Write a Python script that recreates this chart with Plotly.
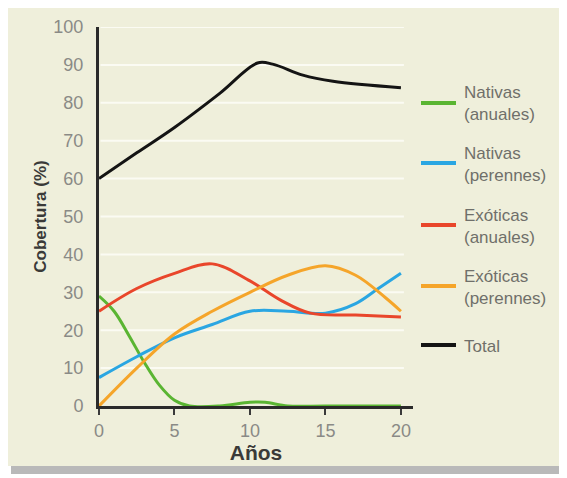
import plotly.graph_objects as go

# ---- data ----
years_total = [0, 2.5, 5, 8, 10.5, 11.5, 13.5, 15.5, 20]
total = [60, 66.8, 73.5, 82.5, 90.5, 90.2, 87.3, 85.7, 84]

years_na = [0, 1, 2, 3, 4, 5, 6, 8, 10, 11, 12.5, 15, 20]
nativas_anuales = [29, 25, 18.5, 11.5, 5.5, 1.5, 0, 0, 1, 1, 0, 0, 0]

years_np = [0, 2.5, 5, 7.5, 10, 12.5, 15, 17, 18.5, 20]
nativas_perennes = [7.5, 13, 18, 21.5, 25, 25, 24.5, 27, 31, 35]

years_ea = [0, 2.5, 5, 7.5, 10, 12, 14, 17, 20]
exoticas_anuales = [25, 31, 35, 37.5, 33, 28, 24.5, 24, 23.5]

years_ep = [0, 2.5, 5, 7.5, 10, 12.5, 15, 17, 19, 20]
exoticas_perennes = [0, 10, 19, 25, 30, 34.5, 37, 34.5, 28.5, 25]

series_names = ["Nativas<br>(anuales)", "Nativas<br>(perennes)", "Exóticas<br>(anuales)",
                "Exóticas<br>(perennes)", "Total"]
series_colors = ["#5ab532", "#2aa6e2", "#e9462b", "#f5a52a", "#141414"]
series_x = [years_na, years_np, years_ea, years_ep, years_total]
series_y = [nativas_anuales, nativas_perennes, exoticas_anuales, exoticas_perennes, total]

x_ticks = [0, 5, 10, 15, 20]
y_ticks = [0, 10, 20, 30, 40, 50, 60, 70, 80, 90, 100]

# ---- layout geometry (pixels) ----
W, H = 567, 478
OX, OY = 7, 8          # page offset of the figure on screen
L, T = 91, 19
PW, PH = 314, 379
R = W - L - PW
B = H - T - PH

FONT = "Liberation Sans, Arial, sans-serif"


def px(sx):
    return (sx - OX - L) / PW


def py(sy):
    return (T + PH - (sy - OY)) / PH


fig = go.Figure()

shapes = []
# scanned panel background + shadow
shapes.append(dict(type="rect", xref="paper", yref="paper", x0=px(10), x1=px(567), y0=py(474), y1=py(10),
                   fillcolor="#b9b9b9", line_width=0, layer="below"))
shapes.append(dict(type="rect", xref="paper", yref="paper", x0=px(7), x1=px(562), y0=py(466), y1=py(7),
                   fillcolor="#efefdb", line_width=0, layer="below"))
# white grid lines
for v in y_ticks[1:]:
    shapes.append(dict(type="line", xref="x", yref="y", x0=0.1, x1=20.2, y0=v, y1=v,
                       line=dict(color="#fbfbf3", width=2), layer="below"))

for name, xs, ys, c in zip(series_names, series_x, series_y, series_colors):
    fig.add_trace(go.Scatter(x=xs, y=ys, mode="lines", name=name.replace("<br>", " "),
                             line=dict(color=c, width=3, shape="spline", smoothing=1.0),
                             showlegend=False, cliponaxis=False))

# custom legend
legend_y = [103, 163, 225, 286, 345]
annotations = []
for name, c, ly in zip(series_names, series_colors, legend_y):
    shapes.append(dict(type="line", xref="paper", yref="paper", x0=px(420), x1=px(455),
                       y0=py(ly), y1=py(ly), line=dict(color=c, width=4)))
    annotations.append(dict(xref="paper", yref="paper", x=px(461), y=py(ly + 1), text=name,
                            showarrow=False, xanchor="left", yanchor="middle", align="left",
                            font=dict(family=FONT, size=17, color="#6f6f6a")))

fig.update_layout(
    width=W, height=H,
    margin=dict(l=L, r=R, t=T, b=B, pad=0, autoexpand=False),
    paper_bgcolor="white",
    plot_bgcolor="rgba(0,0,0,0)",
    shapes=shapes,
    annotations=annotations,
    font=dict(family=FONT),
    xaxis=dict(
        range=[0, 20.8], tickvals=x_ticks, ticktext=[str(v) for v in x_ticks],
        showgrid=False, zeroline=False, automargin=False,
        showline=True, linecolor="#2a2a2a", linewidth=3,
        ticks="outside", ticklen=6, tickwidth=2, tickcolor="#3a3a3a",
        tickfont=dict(size=18, color="#8a8a86"),
        title=dict(text="<b>Años</b>", font=dict(size=21, color="#3a3a38"), standoff=6),
    ),
    yaxis=dict(
        range=[0, 100], tickvals=y_ticks, ticktext=[str(v) for v in y_ticks],
        showgrid=False, zeroline=False, automargin=False,
        showline=True, linecolor="#2a2a2a", linewidth=3,
        ticks="", ticklabelstandoff=9,
        tickfont=dict(size=18, color="#8a8a86"),
        title=dict(text="<b>Cobertura (%)</b>", font=dict(size=17, color="#3a3a38"), standoff=3),
    ),
)

fig.write_html("out.html")
